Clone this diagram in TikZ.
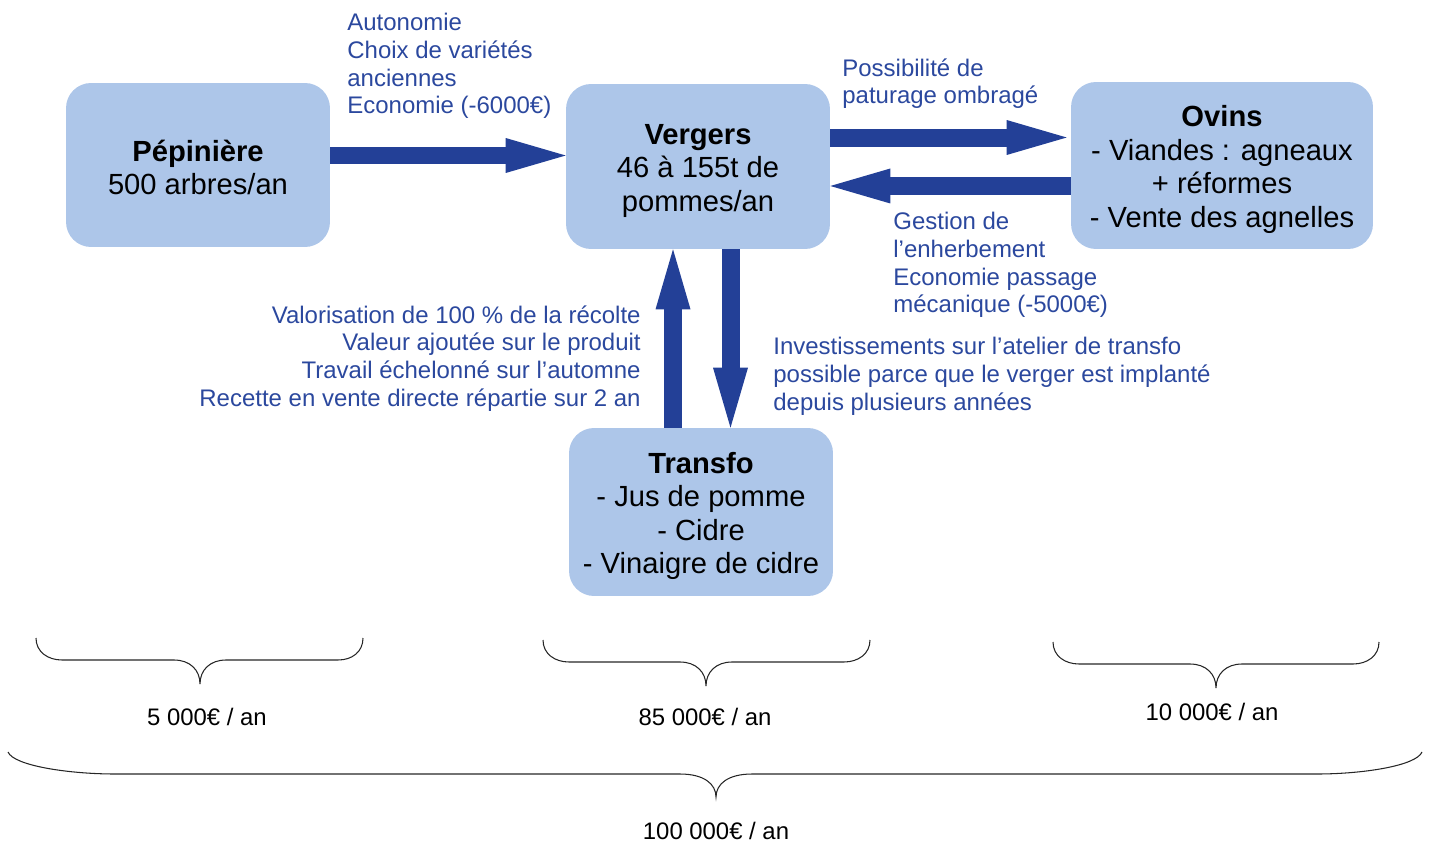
\documentclass[tikz,border=0pt]{standalone}
\usepackage{fontspec}
\setmainfont{Liberation Sans}
\usetikzlibrary{arrows.meta}
\definecolor{boxblue}{RGB}{173,198,233}
\definecolor{arrowblue}{RGB}{35,64,151}
\definecolor{noteblue}{RGB}{43,72,158}
\newcommand{\topstrut}{\rule{0pt}{0.58cm}}

\begin{document}
\begin{tikzpicture}[x=0.02cm, y=-0.02cm,
    box/.style={fill=boxblue, rounded corners=0.5cm, align=center, inner sep=0pt,
      font=\fontsize{16.6}{19.1}\selectfont},
    flow/.style={arrowblue, line width=0.36cm,
      -{Triangle[length=1.2cm, width=0.7cm, line width=0pt]}},
    note/.style={noteblue, inner sep=0pt, font=\fontsize{13.65}{15.75}\selectfont},
    total/.style={inner sep=0pt, font=\fontsize{13.6}{16}\selectfont},
    brc/.style={black!85, line width=0.6pt}]
    \useasboundingbox (0,0) rectangle (1432,844);

    % Ateliers
    \node[box, minimum width=5.28cm, minimum height=3.28cm] (pep) at (198,165)
        {\rule{0pt}{0.52cm}\textbf{Pépinière}\\500 arbres/an};
    \node[box, minimum width=5.28cm, minimum height=3.3cm] (verg) at (698,166.5)
        {\topstrut\textbf{Vergers}\\46 à 155t de\\pommes/an};
    \node[box, minimum width=6.04cm, minimum height=3.34cm] (ovins) at (1222,165.5)
        {\topstrut\textbf{Ovins}\\- Viandes : agneaux\\+ réformes\\- Vente des agnelles};
    \node[box, minimum width=5.28cm, minimum height=3.36cm] (transfo) at (701,512)
        {\topstrut\textbf{Transfo}\\- Jus de pomme\\- Cidre\\- Vinaigre de cidre};

    % Flux
    \draw[flow] ([yshift=0.19cm]pep.east) -- ([yshift=0.19cm]pep.east -| verg.west);
    \draw[flow] ([yshift=0.58cm]verg.east) -- ([yshift=0.58cm,xshift=-0.08cm]verg.east -| ovins.west);
    \draw[flow] ([yshift=-0.41cm]ovins.west) -- ([yshift=-0.41cm]ovins.west -| verg.east);
    \draw[flow] ([xshift=-0.5cm]transfo.north -| verg.south) -- ([xshift=-0.5cm]verg.south);
    \draw[flow] ([xshift=0.65cm]verg.south) -- ([xshift=0.65cm]verg.south |- transfo.north);

    % Notes sur les flux
    \node[note, align=left, anchor=north west] (lblpep) at (347,13)
        {Autonomie\\Choix de variétés\\anciennes\\Economie (-6000€)};
    \node[note, align=left, anchor=north west] (lblovin) at (842,58)
        {Possibilité de\\paturage ombragé};
    \node[note, align=left, anchor=north west] (lblherbe) at (893,212)
        {Gestion de\\l’enherbement\\Economie passage\\mécanique (-5000€)};
    \node[note, align=right, anchor=north east] (lblvalo) at (641,305)
        {Valorisation de 100 \% de la récolte\\Valeur ajoutée sur le produit\\Travail échelonné sur l’automne\\Recette en vente directe répartie sur 2 an};
    \node[note, align=left, anchor=north west] (lblinvest) at (773,337)
        {Investissements sur l’atelier de transfo\\possible parce que le verger est implanté\\depuis plusieurs années};

    % Accolades et revenus
    \draw[brc] (36,638) .. controls (36,652) and (48,660) .. (62,660) -- (174,660)
        .. controls (190,660) and (200,670) .. (200,684)
        .. controls (200,670) and (210,660) .. (226,660) -- (338,660)
        .. controls (352,660) and (363,652) .. (363,638);
    \draw[brc] (543,640) .. controls (543,654) and (555,662) .. (569,662) -- (680,662)
        .. controls (696,662) and (706,672) .. (706,686)
        .. controls (706,672) and (716,662) .. (732,662) -- (844,662)
        .. controls (858,662) and (870,654) .. (870,640);
    \draw[brc] (1053,642) .. controls (1053,656) and (1065,664) .. (1079,664) -- (1190,664)
        .. controls (1206,664) and (1216,674) .. (1216,688)
        .. controls (1216,674) and (1226,664) .. (1242,664) -- (1353,664)
        .. controls (1367,664) and (1379,656) .. (1379,642);
    \draw[brc] (8,752) .. controls (14,766) and (70,774) .. (115,774) -- (680,774)
        .. controls (704,774) and (716,784) .. (716,797)
        .. controls (716,784) and (728,774) .. (752,774) -- (1317,774)
        .. controls (1362,774) and (1416,766) .. (1422,752);

    \node[total] (revpep) at (207,717) {5 000€ / an};
    \node[total] (revverg) at (705,717) {85 000€ / an};
    \node[total] (revovins) at (1212,712) {10 000€ / an};
    \node[total] (revtot) at (716,831) {100 000€ / an};
\end{tikzpicture}
\end{document}
